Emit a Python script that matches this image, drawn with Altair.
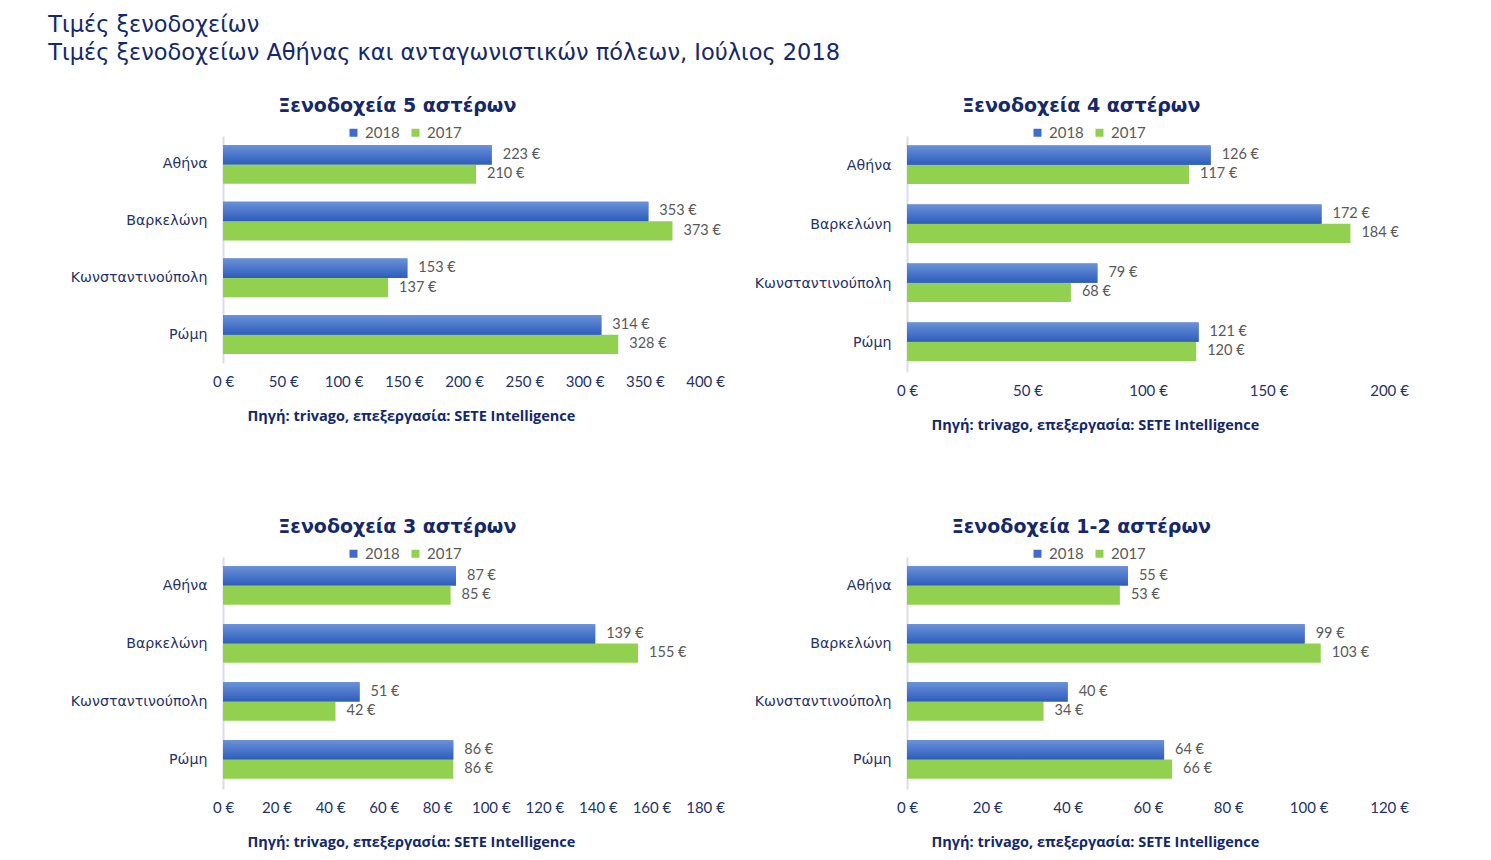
import altair as alt
import pandas as pd

cities = ["Αθήνα", "Βαρκελώνη", "Κωνσταντινούπολη", "Ρώμη"]
years = ["2018", "2017"]

p5_2018 = [223, 353, 153, 314]
p5_2017 = [210, 373, 137, 328]
p4_2018 = [126, 172, 79, 121]
p4_2017 = [117, 184, 68, 120]
p3_2018 = [87, 139, 51, 86]
p3_2017 = [85, 155, 42, 86]
p12_2018 = [55, 99, 40, 64]
p12_2017 = [53, 103, 34, 66]

titles = ["Ξενοδοχεία 5 αστέρων", "Ξενοδοχεία 4 αστέρων",
          "Ξενοδοχεία 3 αστέρων", "Ξενοδοχεία 1-2 αστέρων"]
source = "Πηγή: trivago, επεξεργασία: SETE Intelligence"
main_title = ["Τιμές ξενοδοχείων",
              "Τιμές ξενοδοχείων Αθήνας και ανταγωνιστικών πόλεων, Ιούλιος 2018"]

NAVY = "#14286B"
LABEL = "#1F3366"
GRAY = "#595959"
BLUE = "#3F6CC8"
GREEN = "#92D050"
GRAD = {"gradient": "linear", "x1": 0, "x2": 0, "y1": 0, "y2": 1,
        "stops": [{"offset": 0, "color": "#6A92D8"},
                  {"offset": 1, "color": "#2D5CBC"}]}


def panel(title, v18, v17, xmax, step, height):
    df = pd.DataFrame({
        "city": cities * 2,
        "year": ["2018"] * 4 + ["2017"] * 4,
        "value": v18 + v17,
    })
    base = alt.Chart(df)
    x = alt.X("value:Q", scale=alt.Scale(domain=[0, xmax], nice=False),
              axis=alt.Axis(values=list(range(0, xmax + 1, step)),
                            labelExpr="datum.value + ' €'", grid=False,
                            domain=False, ticks=False, labelPadding=11,
                            labelFlush=False, labelOverlap=False,
                            labelFont="Lato", labelFontSize=15, labelColor=LABEL,
                            title=source, titleFont="Open Sans", titleFontSize=14.5,
                            titleFontWeight="bold", titleColor=NAVY,
                            titleAnchor="start", titleAlign="left",
                            titleBaseline="middle", titleX=24, titleY=53))
    y = alt.Y("city:N", sort=cities,
              scale=alt.Scale(paddingInner=0.32, paddingOuter=0.16),
              axis=alt.Axis(title=None, domain=True, domainColor="#D9DDE6",
                            domainWidth=2, ticks=False, labelPadding=16,
                            labelFont="DejaVu Sans", labelFontSize=14.2,
                            labelColor=LABEL))
    yo = alt.YOffset("year:N", sort=years,
                     scale=alt.Scale(domain=years, paddingInner=0, paddingOuter=0))
    color = alt.Color("year:N",
                      scale=alt.Scale(domain=years, range=[BLUE, GREEN]),
                      legend=alt.Legend(title=None, orient="none", legendX=123,
                                        legendY=-11, direction="horizontal",
                                        symbolType="square", symbolSize=64,
                                        symbolStrokeWidth=0, labelFont="Lato",
                                        labelFontSize=15, labelColor=GRAY,
                                        columnPadding=8, labelOffset=4))
    bars = base.mark_bar().encode(x=x, y=y, yOffset=yo, color=color)
    over = base.transform_filter("datum.year == '2018'").mark_bar(
        color=GRAD).encode(x=x, y=y, yOffset=yo)
    text = base.transform_calculate(label="datum.value + ' €'").mark_text(
        align="left", baseline="middle", dx=11, font="Lato", fontSize=14.5,
        color=GRAY).encode(x=x, y=y, yOffset=yo, text="label:N")
    return alt.layer(bars, over, text).properties(
        width=482, height=height,
        title=alt.TitleParams(title, font="DejaVu Sans", fontSize=19,
                              fontWeight="bold", color=NAVY, anchor="middle",
                              frame="bounds", offset=9))


c1 = panel(titles[0], p5_2018, p5_2017, 400, 50, 227)
c2 = panel(titles[1], p4_2018, p4_2017, 200, 50, 236)
c3 = panel(titles[2], p3_2018, p3_2017, 180, 20, 232)
c4 = panel(titles[3], p12_2018, p12_2017, 120, 20, 232)

chart = alt.concat(c1, c2, c3, c4, columns=2,
                   spacing={"row": 86, "column": 29}).properties(
    title=alt.TitleParams(main_title, anchor="start", font="DejaVu Sans",
                          fontSize=22.5, fontWeight="normal", color=NAVY,
                          lineHeight=28, dx=-22, offset=33),
    padding={"left": 48, "top": 13, "right": 5, "bottom": 5},
    background="white",
).resolve_scale(
    color="independent", x="independent", y="independent"
).resolve_legend(color="independent").configure_view(stroke=None)

chart.save("out.html", embed_options={"renderer": "svg", "actions": False})
